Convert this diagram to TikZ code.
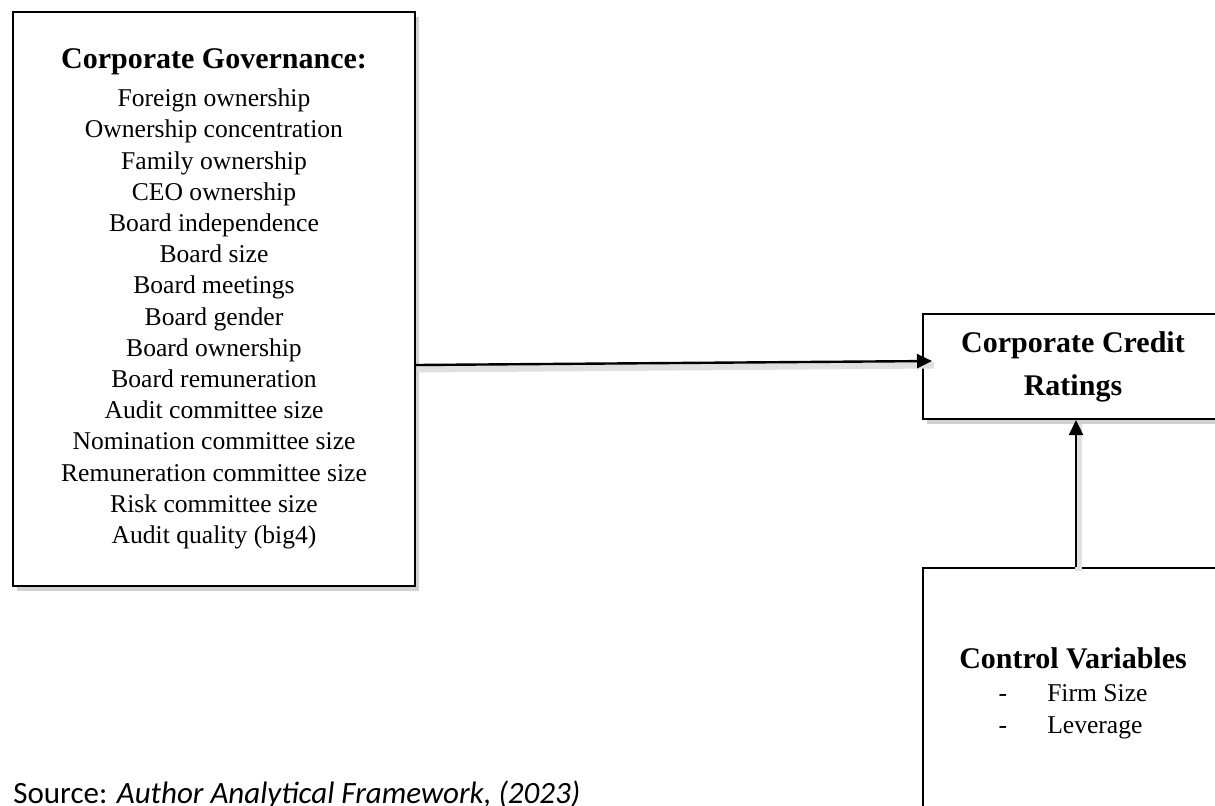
\documentclass[tikz,border=0pt]{standalone}
\usepackage{fontspec}
\setmainfont{Liberation Serif}
\newfontfamily\srcfont{Carlito}
\usetikzlibrary{arrows.meta,shadows}

\begin{document}
\begin{tikzpicture}[x=0.5pt, y=-0.5pt,
  box/.style={draw, rectangle, line width=1pt, fill=white, align=center, inner sep=0pt,
    drop shadow={shadow xshift=2pt, shadow yshift=-2.5pt, opacity=0.3, fill=black!60}},
  link/.style={line width=1.2pt, -{Triangle[length=7.5pt, width=7pt]},
    preaction={draw=black!12, line width=3.5pt, -, transform canvas={xshift=1pt, yshift=-2pt}}}]
\useasboundingbox (0,0) rectangle (1215,805);
\clip (0,0) rectangle (1215,805);
\node[box, minimum width=201pt, minimum height=287pt, font=\fontsize{12.8}{15.6}\selectfont] (cg) at (214,299) {{\fontsize{15}{18}\selectfont\bfseries Corporate Governance:}\\[3.4pt]
Foreign ownership\\Ownership concentration\\Family ownership\\CEO ownership\\Board independence\\Board size\\Board meetings\\Board gender\\Board ownership\\Board remuneration\\Audit committee size\\Nomination committee size\\Remuneration committee size\\Risk committee size\\Audit quality (big4)};
\node[box, minimum width=150pt, minimum height=52.5pt, font=\fontsize{15}{21.5}\selectfont\bfseries] (ccr) at (1073,366.5) {Corporate Credit\\Ratings};
\node[box, minimum width=150pt, minimum height=125pt, font=\fontsize{12.8}{16}\selectfont] (cv) at (1073,693) {{\fontsize{15}{18}\selectfont\bfseries Control Variables}\\[0.5pt]
-\hspace{20pt}\makebox[50pt][l]{Firm Size}\\-\hspace{20pt}\makebox[50pt][l]{Leverage}};
\node[anchor=base west, inner sep=0pt, font=\srcfont\fontsize{15.5}{18}\selectfont] (src) at (13,803) {Source: \textit{Author Analytical Framework, (2023)}};
\draw[link] ([yshift=-33pt]cg.east) -- ([xshift=5pt, yshift=2.75pt]ccr.west);
\draw[link] ([xshift=1.5pt]cv.north) -- ([xshift=1.5pt]ccr.south);
\end{tikzpicture}
\end{document}
